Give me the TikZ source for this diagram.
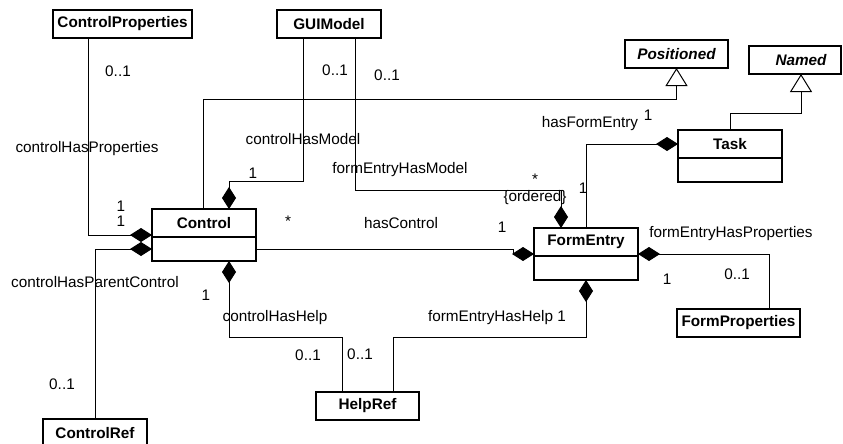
\documentclass[tikz,border=0pt]{standalone}
\usepackage{fontspec}
\setmainfont{Liberation Sans}
\usetikzlibrary{arrows.meta,positioning}
\begin{document}
\begin{tikzpicture}[x=1pt,y=-1pt,
  cls/.style={draw, line width=1.3pt, outer sep=0pt, inner sep=0pt, minimum width=104pt, minimum height=28pt, font=\fontsize{15.3}{18}\selectfont\bfseries},
  clsbody/.style={draw, line width=1.3pt, outer sep=0pt, inner sep=0pt, minimum width=104pt, minimum height=24pt, below=0pt of #1},
  lbl/.style={inner sep=0pt, text height=11pt, text depth=3pt, font=\fontsize{15.3}{18}\selectfont},
  comp/.style={line width=1pt},
  dia/.tip={Diamond[length=22pt,width=14pt]},
  gen/.tip={Triangle[open,fill=white,length=18pt,width=22pt]}]
\useasboundingbox (0,0) rectangle (843,444);
% classes
\node[cls, minimum width=139pt] (cprop) at (122.5,24) {ControlProperties};
\node[cls] (gui) at (329,24) {GUIModel};
\node[cls, minimum width=103pt, font=\fontsize{15.3}{18}\selectfont\bfseries\itshape] (pos) at (676.5,54) {Positioned};
\node[cls, minimum width=92pt, font=\fontsize{15.3}{18}\selectfont\bfseries\itshape] (named) at (795,60) {\hspace{12pt}Named};
\node[cls] (task) at (730,144) {Task};
\node[clsbody=task] (taskb) {};
\node[cls] (ctl) at (204,223) {Control};
\node[clsbody=ctl] (ctlb) {};
\node[cls] (fe) at (586,242) {FormEntry};
\node[clsbody=fe] (feb) {};
\node[cls, minimum width=123pt] (fprop) at (738.5,323) {FormProperties};
\node[cls, minimum width=103pt] (help) at (367.5,406) {HelpRef};
\node[cls] (cref) at (95,433) {ControlRef};
% connectors
\draw[comp, -dia] ([xshift=-34.5pt]cprop.south) |- ([yshift=-12pt]ctl.west);
\draw[comp, dia-] (ctlb.west) -| (cref.north);
\draw[comp, -dia] ([xshift=-26pt]gui.south) -- ++(0,143) -| ([xshift=25pt]ctl.north);
\draw[comp, -gen] ([xshift=-1pt]ctl.north) -- ++(0,-110) -| (pos.south);
\draw[comp, -dia] ([xshift=26pt]gui.south) -- ++(0,152) -| ([xshift=-25pt]fe.north);
\draw[comp, -dia] (fe.north) |- (task.west);
\draw[comp, -gen] (task.north) -- ++(0,-17) -| ([xshift=6pt]named.south);
\draw[comp, -dia] (ctlb.east) -- ++(257,0) |- ([yshift=-12pt]fe.west);
\draw[comp, dia-] ([yshift=-12pt]fe.east) -| ([xshift=30.5pt]fprop.north);
\draw[comp, dia-] ([xshift=25pt]ctlb.south) -- ++(0,76) -| ([xshift=-25.5pt]help.north);
\draw[comp, dia-] (feb.south) -- ++(0,57) -| ([xshift=25.5pt]help.north);
% role names and multiplicities
\node[lbl] (m0) at (118,73) {0..1};
\node[lbl] (r0) at (87,148) {controlHasProperties};
\node[lbl] (m1) at (121,207) {1};
\node[lbl] (m2) at (121,222) {1};
\node[lbl] (m3) at (335,72) {0..1};
\node[lbl] (m4) at (387,77) {0..1};
\node[lbl] (r1) at (303,140) {controlHasModel};
\node[lbl] (m5) at (253,174) {1};
\node[lbl] (r2) at (400,169) {formEntryHasModel};
\node[lbl] (m6) at (535,180) {*};
\node[lbl] (m7) at (535,197) {\{ordered\}};
\node[lbl] (m8) at (583,189) {1};
\node[lbl] (r3) at (590,123) {hasFormEntry};
\node[lbl] (m9) at (648,116) {1};
\node[lbl] (m10) at (288,222) {*};
\node[lbl] (r4) at (401,224) {hasControl};
\node[lbl] (m11) at (502,228) {1};
\node[lbl] (r5) at (731,233) {formEntryHasProperties};
\node[lbl] (m12) at (667,280) {1};
\node[lbl] (m13) at (737,275) {0..1};
\node[lbl] (r6) at (95,283) {controlHasParentControl};
\node[lbl] (m14) at (206,296) {1};
\node[lbl] (r7) at (275,317) {controlHasHelp};
\node[lbl] (m15) at (308,356) {0..1};
\node[lbl] (m16) at (360,355) {0..1};
\node[lbl] (m17) at (62,385) {0..1};
\node[lbl] (r8) at (497,317) {formEntryHasHelp 1};
\end{tikzpicture}
\end{document}
